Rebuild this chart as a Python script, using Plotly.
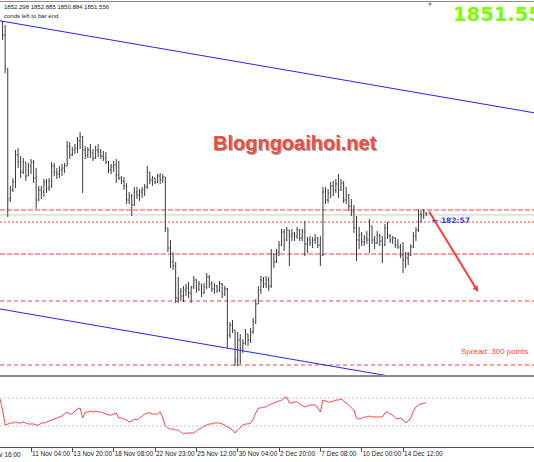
import plotly.graph_objects as go

# ---------------- data ----------------
bar_index = list(range(1, 166))

open_ = [1948, 1941.5, 1924, 1860, 1864, 1868, 1881.5, 1878, 1873, 1878,
         1871, 1876, 1878, 1870, 1859, 1864, 1863, 1868, 1865, 1866,
         1876, 1873, 1872, 1874, 1875, 1876, 1886, 1881.5, 1884, 1885,
         1888.5, 1890.5, 1884, 1881.5, 1884, 1882.5, 1880, 1884, 1883, 1881,
         1880, 1878, 1874, 1875.5, 1876.5, 1871.5, 1870, 1868.5, 1866, 1859,
         1861, 1856.5, 1863, 1861.5, 1863, 1864, 1865.5, 1873, 1869, 1870,
         1868, 1871, 1869, 1870.5, 1845, 1835, 1828, 1826, 1810, 1813,
         1811, 1814, 1815, 1812.5, 1815.5, 1819, 1814.5, 1817, 1812.5, 1815.5,
         1820.5, 1817, 1814.5, 1816, 1814, 1817, 1812, 1814.5, 1791.5, 1796.5,
         1794, 1779, 1789, 1785, 1787.5, 1792, 1789, 1793, 1798, 1807,
         1814, 1819, 1817, 1819, 1816, 1832, 1828, 1833, 1836.5, 1843,
         1839, 1844, 1841, 1842, 1841, 1844, 1840, 1843, 1837, 1839,
         1837.5, 1839, 1840, 1836.5, 1831.5, 1863, 1859, 1862.5, 1866, 1864,
         1867, 1864, 1867.5, 1859, 1861.5, 1856, 1853, 1845, 1839, 1841.5,
         1838, 1840, 1839, 1846, 1839, 1837.5, 1841.5, 1838.5, 1836.5, 1845,
         1841, 1839, 1840, 1836.5, 1835.5, 1831.5, 1829, 1830, 1831.5, 1835.5,
         1841, 1844, 1852, 1851, 1852.298]
high = [1948.5, 1946.5, 1925, 1866, 1870, 1884, 1885, 1881, 1880, 1878,
        1877.5, 1879.5, 1879, 1875, 1866, 1866, 1869.5, 1869.5, 1870, 1878,
        1877.5, 1875, 1876, 1877, 1877.5, 1888.5, 1888, 1885.5, 1887, 1890.5,
        1893, 1891, 1886, 1885.5, 1887, 1884.5, 1886, 1887, 1884.5, 1883.5,
        1883, 1878.5, 1877, 1878.5, 1879.5, 1878.5, 1871, 1870.5, 1867.5, 1863,
        1862, 1865.5, 1865.5, 1864.5, 1865.5, 1867, 1876, 1873, 1871, 1870,
        1872, 1872.5, 1872, 1870.5, 1845, 1839, 1833, 1828, 1820.5, 1815,
        1816, 1817, 1818, 1816, 1821, 1819.5, 1818.5, 1817, 1817.5, 1822.5,
        1821.5, 1818.5, 1817.5, 1816.5, 1818.5, 1817.5, 1816, 1815, 1798, 1799,
        1794, 1793, 1792, 1789.5, 1794.5, 1792, 1795, 1800, 1809.5, 1816,
        1821, 1820.5, 1821, 1820.5, 1834.5, 1832, 1834.5, 1838.5, 1844.5, 1844.5,
        1845.5, 1844, 1844.5, 1843, 1845.5, 1844.5, 1844.5, 1848.5, 1840.5, 1841,
        1840.5, 1842, 1840.5, 1841, 1865.5, 1865.5, 1864.5, 1868, 1868.5, 1869.5,
        1872, 1869.5, 1868.5, 1865.5, 1862, 1859.5, 1856.5, 1851, 1845.5, 1843,
        1841.5, 1843.5, 1849.5, 1846, 1841, 1843.5, 1842, 1841, 1847, 1848,
        1842, 1841, 1840.5, 1839.5, 1837, 1838, 1833, 1833, 1837, 1843,
        1845.5, 1854.5, 1853.5, 1854.5, 1852.885]
low = [1939, 1922.5, 1850.5, 1858, 1863, 1865, 1875, 1870, 1872, 1868.5,
       1871, 1872, 1867.5, 1854.5, 1858.5, 1859.5, 1860.5, 1862.5, 1863.5, 1865,
       1871, 1869.5, 1870, 1871, 1872.5, 1876, 1879.5, 1881, 1882, 1882.5,
       1884.5, 1862.5, 1879.5, 1880, 1880, 1878.5, 1879.5, 1880.5, 1879.5, 1878.5,
       1877, 1872.5, 1872, 1873, 1867.5, 1869, 1867, 1864, 1857, 1857,
       1851, 1856, 1859.5, 1858.5, 1860, 1861, 1864.5, 1867, 1866, 1867,
       1867.5, 1867, 1867.5, 1843, 1833, 1825, 1824, 1807.5, 1807.5, 1808.5,
       1808, 1811, 1810, 1807.5, 1814.5, 1812.5, 1813.5, 1810.5, 1812, 1814.5,
       1815, 1813, 1812, 1812.5, 1813, 1810, 1811, 1785, 1790, 1792.5,
       1776, 1776, 1777, 1782.5, 1786.5, 1786, 1787.5, 1792, 1797, 1807,
       1812, 1815, 1815, 1813.5, 1815, 1825, 1827.5, 1831, 1836, 1833.5,
       1838.5, 1826, 1838.5, 1838.5, 1839.5, 1838.5, 1838.5, 1831, 1832.5, 1836,
       1835, 1837, 1835, 1826, 1831, 1857, 1857.5, 1860, 1861, 1862.5,
       1860, 1863.5, 1857.5, 1857, 1853.5, 1851, 1842.5, 1828.5, 1834.5, 1836,
       1836, 1837, 1832.5, 1837, 1834.5, 1837, 1836, 1827.5, 1836, 1839.5,
       1837.5, 1837, 1835, 1834.5, 1830, 1822.5, 1825, 1826.5, 1831, 1835,
       1838.5, 1843, 1847.5, 1849.5, 1850.884]
close = [1941.5, 1925, 1859, 1864, 1868, 1881.5, 1878, 1873, 1878, 1871,
         1876, 1878, 1870, 1859, 1864, 1863, 1868, 1865, 1868.5, 1876,
         1873, 1872, 1874, 1875, 1876, 1886, 1881.5, 1884, 1885, 1888.5,
         1890.5, 1884, 1881.5, 1884, 1882.5, 1880, 1884, 1883, 1881, 1880,
         1878, 1874, 1875.5, 1876.5, 1871.5, 1870, 1868.5, 1866, 1859, 1861,
         1856.5, 1863, 1861.5, 1863, 1864, 1865.5, 1873, 1869, 1870, 1868,
         1871, 1869, 1870.5, 1845, 1835, 1828, 1826, 1810, 1813, 1811,
         1814, 1815, 1812.5, 1815.5, 1819, 1814.5, 1817, 1812.5, 1815.5, 1820.5,
         1817, 1814.5, 1816, 1814, 1817, 1812, 1814.5, 1791.5, 1796.5, 1794,
         1779, 1789, 1785, 1787.5, 1792, 1789, 1793, 1798, 1807, 1814,
         1819, 1817, 1819, 1816, 1832, 1828, 1833, 1836.5, 1843, 1839,
         1844, 1841, 1842, 1841, 1844, 1840, 1843, 1837, 1839, 1837.5,
         1839, 1840, 1836.5, 1831.5, 1863, 1859, 1862.5, 1866, 1864, 1867,
         1864, 1867.5, 1859, 1861.5, 1856, 1853, 1845, 1839, 1841.5, 1838,
         1840, 1839, 1846, 1839, 1837.5, 1841.5, 1838.5, 1836.5, 1845, 1841,
         1839, 1840, 1836.5, 1835.5, 1831.5, 1829, 1830, 1831.5, 1835.5, 1841,
         1844, 1852, 1851, 1853, 1851.556]

rsi_index = list(range(0, 166))
rsi = [68.6, 52.9, 31.4, 32.9, 34.3, 34.3, 35.7, 34.3, 34.3, 35.7,
       34.3, 32.9, 32.9, 32.9, 31.4, 31.4, 34.3, 34.3, 35.7, 37.1,
       38.6, 40, 41.4, 42.9, 44.3, 47.1, 50, 47.1, 47.1, 51.4,
       54.3, 55.7, 41.4, 50, 50, 51.4, 50, 51.4, 50, 50,
       48.6, 47.1, 45.7, 45.7, 47.1, 48.6, 41.4, 41.4, 40, 38.6,
       35.7, 37.1, 40, 38.6, 41.4, 44.3, 47.1, 48.6, 48.6, 47.1,
       47.1, 47.1, 50, 41.4, 30, 27.1, 25.7, 25.7, 24.3, 24.3,
       21.4, 18.6, 20, 20, 20, 20, 22.9, 25.7, 27.1, 30,
       31.4, 32.9, 32.9, 34.3, 34.3, 34.3, 32.9, 31.4, 28.6, 27.1,
       24.3, 20, 24.3, 28.6, 31.4, 32.9, 32.9, 34.3, 40, 48.6,
       55.7, 55.7, 57.1, 57.1, 60, 61.4, 62.9, 64.3, 65.7, 67.1,
       70, 71.4, 62.9, 62.9, 64.3, 64.3, 61.4, 58.6, 57.1, 58.6,
       60, 60, 60, 55.7, 50, 67.1, 65.7, 64.3, 64.3, 65.7,
       67.1, 67.1, 68.6, 65.7, 62.9, 60, 55.7, 52.9, 41.4, 40,
       41.4, 42.9, 42.9, 44.3, 42.9, 42.9, 42.9, 42.9, 42.9, 48.6,
       50, 47.1, 45.7, 41.4, 40, 41.4, 38.6, 34.3, 37.1, 41.4,
       51.4, 57.1, 60, 61.4, 62.9, 62.9]
rsi_levels = [70, 30]

tick_index = [12, 28, 44, 60, 76, 92, 108, 124, 140, 156]
tick_text = ["11 Nov 04:00", "13 Nov 20:00", "18 Nov 08:00", "22 Nov 23:00",
             "25 Nov 12:00", "30 Nov 04:00", "2 Dec 20:00", "7 Dec 08:00",
             "10 Dec 00:00", "14 Dec 12:00"]
first_label = "10 Nov 16:00"

# drawn chart objects (time index, price)
channel_upper_idx = [0, 206.7]
channel_upper_price = [1948.6, 1902.6]
channel_lower_idx = [0, 206.7]
channel_lower_price = [1804.5, 1758.5]
arrow_idx = [165.7, 185.1]
arrow_price = [1854, 1813]
level_prices = [1854, 1848, 1832, 1808.5, 1776.5]
level_dash = ["5px,2px", "2px,2px", "5px,2px", "4px,3px", "4px,3px"]
bid_price = 1851.556

W, H = 534, 462
def px(x):
    return x / W
def py(y):
    return 1 - y / H

fig = go.Figure()
fig.add_trace(go.Ohlc(
    x=bar_index, open=open_, high=high, low=low, close=close,
    xaxis="x", yaxis="y",
    increasing=dict(line=dict(color="#3a3a3a", width=1)),
    decreasing=dict(line=dict(color="#3a3a3a", width=1)),
    tickwidth=0.35, showlegend=False, hoverinfo="skip"))

fig.add_trace(go.Scatter(x=channel_upper_idx, y=channel_upper_price, mode="lines",
                         line=dict(color="#2424ff", width=1), xaxis="x", yaxis="y",
                         showlegend=False, hoverinfo="skip"))
fig.add_trace(go.Scatter(x=channel_lower_idx, y=channel_lower_price, mode="lines",
                         line=dict(color="#2424ff", width=1), xaxis="x", yaxis="y",
                         showlegend=False, hoverinfo="skip"))

fig.add_trace(go.Scatter(x=rsi_index, y=rsi, mode="lines",
                         line=dict(color="#f04848", width=1), xaxis="x", yaxis="y2",
                         showlegend=False, hoverinfo="skip"))

shapes = []
for lv, ds in zip(level_prices, level_dash):
    shapes.append(dict(type="line", xref="paper", x0=0, x1=1, yref="y", y0=lv, y1=lv,
                       line=dict(color="#ff3c3c", width=1, dash=ds), layer="below"))
shapes.append(dict(type="line", xref="paper", x0=0, x1=1, yref="y", y0=bid_price, y1=bid_price,
                   line=dict(color="#c8c8c8", width=1), layer="below"))
for lv in rsi_levels:
    shapes.append(dict(type="line", xref="paper", x0=0, x1=1, yref="y2", y0=lv, y1=lv,
                       line=dict(color="#c4c4c4", width=1, dash="2px,2px"), layer="below"))
# window borders
shapes.append(dict(type="line", xref="paper", yref="paper", x0=0, x1=1, y0=py(1.5), y1=py(1.5),
                   line=dict(color="#8c8c8c", width=1)))
shapes.append(dict(type="line", xref="paper", yref="paper", x0=0, x1=1, y0=py(376), y1=py(376),
                   line=dict(color="#8c8c8c", width=2)))

annotations = [
    dict(x=arrow_idx[1], y=arrow_price[1], ax=arrow_idx[0], ay=arrow_price[0],
         xref="x", yref="y", axref="x", ayref="y", text="", showarrow=True,
         arrowcolor="#ff3c3c", arrowwidth=2, arrowhead=2, arrowsize=0.6),
    dict(x=px(2), y=py(7), xref="paper", yref="paper", xanchor="left", yanchor="middle",
         text="1852.298 1852.885 1850.884 1851.556", showarrow=False,
         font=dict(family="Liberation Sans", size=6, color="#202020")),
    dict(x=px(2), y=py(15.5), xref="paper", yref="paper", xanchor="left", yanchor="middle",
         text="conds left to bar end", showarrow=False,
         font=dict(family="Liberation Sans", size=6, color="#202020")),
    dict(x=px(451), y=py(15), xref="paper", yref="paper", xanchor="left", yanchor="middle",
         text="<b>1851.55</b>", showarrow=False,
         font=dict(family="DejaVu Sans", size=19.5, color="#7CFC00")),
    dict(x=px(430), y=py(4.5), xref="paper", yref="paper", xanchor="center", yanchor="middle",
         text="▼", showarrow=False, font=dict(family="DejaVu Sans", size=5, color="#909090")),
    dict(x=px(296), y=py(144), xref="paper", yref="paper", xanchor="center", yanchor="middle",
         text="<b>Blogngoaihoi.net</b>", showarrow=False,
         font=dict(family="Liberation Sans", size=20, color="#a0a0a0")),
    dict(x=px(295), y=py(143), xref="paper", yref="paper", xanchor="center", yanchor="middle",
         text="<b>Blogngoaihoi.net</b>", showarrow=False,
         font=dict(family="Liberation Sans", size=20, color="#ee4a3e")),
    dict(x=px(532), y=py(351), xref="paper", yref="paper", xanchor="right", yanchor="middle",
         text="Spread: 300 points.", showarrow=False,
         font=dict(family="Liberation Sans", size=8, color="#ff4040")),
    dict(x=px(430), y=py(220.5), xref="paper", yref="paper", xanchor="left", yanchor="middle",
         text="<b>← 182:57</b>", showarrow=False,
         font=dict(family="DejaVu Sans", size=7.5, color="#3040ff")),
    dict(x=px(23), y=py(454), xref="paper", yref="paper", xanchor="right", yanchor="middle",
         text=first_label, showarrow=False,
         font=dict(family="Liberation Sans", size=6.5, color="#202020")),
]

fig.update_layout(
    width=W, height=H, margin=dict(l=0, r=0, t=0, b=0),
    paper_bgcolor="white", plot_bgcolor="white", showlegend=False,
    xaxis=dict(domain=[0, 1], range=[0, 206.7], anchor="y2", showgrid=False, zeroline=False,
               tickmode="array", tickvals=tick_index, ticktext=tick_text,
               ticks="outside", ticklen=4, tickcolor="#505050", tickangle=0,
               showline=True, linecolor="#505050", linewidth=1,
               tickfont=dict(family="Liberation Sans", size=6.5, color="#202020"),
               ticklabelposition="outside right", rangeslider=dict(visible=False),
               automargin=False, fixedrange=True),
    yaxis=dict(domain=[py(375), py(2)], range=[1771.5, 1958], visible=False,
               anchor="x", showgrid=False, zeroline=False, fixedrange=True),
    yaxis2=dict(domain=[py(447), py(377)], range=[0, 100], visible=False,
                anchor="x", showgrid=False, zeroline=False, fixedrange=True),
    shapes=shapes, annotations=annotations,
)

fig.write_html("out.html", config={"displayModeBar": False, "staticPlot": True},
               post_script="document.body.style.margin='0';document.body.style.padding='0';")
